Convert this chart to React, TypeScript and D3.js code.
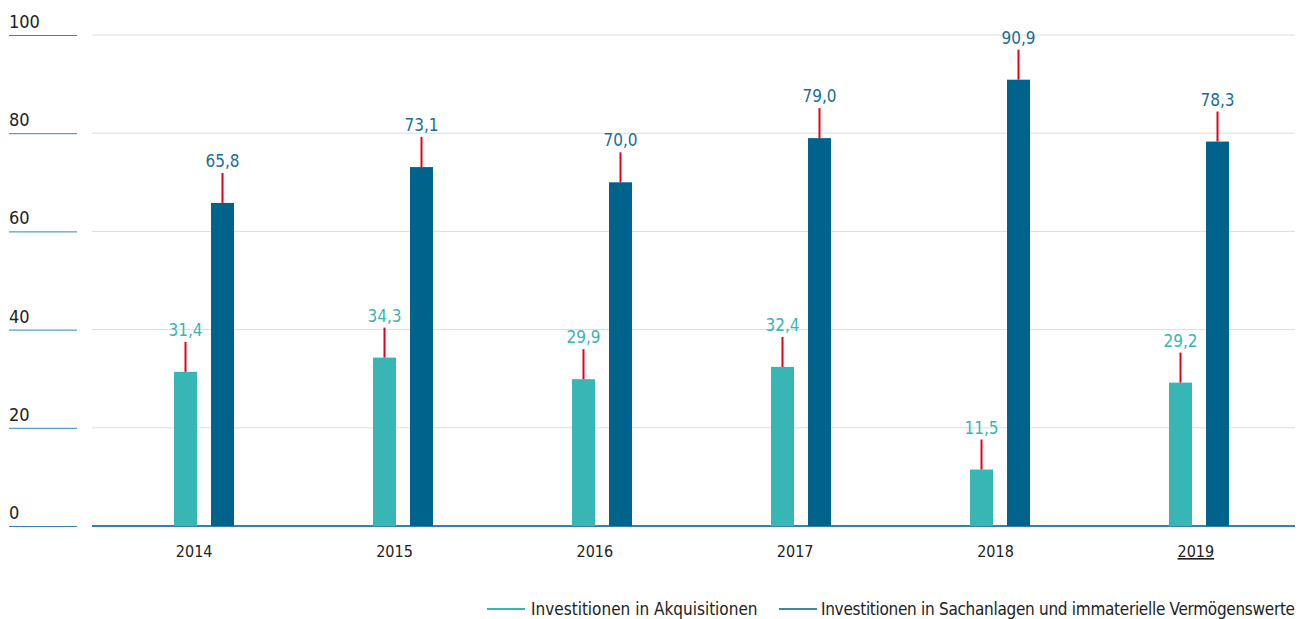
import React from "react";
import { scaleBand, scaleLinear, format } from "d3";

const years = ["2014", "2015", "2016", "2017", "2018", "2019"];
const acquisitions = [31.4, 34.3, 29.9, 32.4, 11.5, 29.2];
const tangibles = [65.8, 73.1, 70.0, 79.0, 90.9, 78.3];
const yTicks = [0, 20, 40, 60, 80, 100];
const seriesNames = [
  "Investitionen in Akquisitionen",
  "Investitionen in Sachanlagen und immaterielle Vermögenswerte",
];

const TEAL = "#37b6b5";
const BLUE = "#00638c";
const AXIS = "#2a88b0";
const FONT = "'Liberation Sans Narrow', 'DejaVu Sans Condensed', sans-serif";

export default function App() {
  const width = 1306;
  const height = 619;

  const x = scaleBand().domain(years).range([104.5, 1298.5]);
  // year labels sit on an even grid across the plot area
  const xLabel = scaleBand().domain(years).range([94, 1296]);
  const y = scaleLinear().domain([0, 100]).range([526, 35]);
  const fmt = (v: number) => format(".1f")(v).replace(".", ",");

  const barW = 23;
  const gap = 14;

  return (
    <svg
      width={width}
      height={height}
      style={{ position: "absolute", left: 0, top: 0, fontFamily: FONT }}
    >
      {yTicks.map((t) => (
        <g key={t}>
          <line x1={92} x2={1295} y1={y(t)} y2={y(t)} stroke="#dddddd" strokeWidth={1} />
          <line x1={9} x2={77} y1={y(t) + 0.5} y2={y(t) + 0.5} stroke={AXIS} strokeWidth={1} />
          <text x={9} y={y(t) - 7} fontSize={18} fill="#222">
            {t}
          </text>
        </g>
      ))}
      <line x1={92} x2={1295} y1={y(0)} y2={y(0)} stroke={AXIS} strokeWidth={2} />

      {years.map((yr, i) => {
        const c = (x(yr) as number) + x.bandwidth() / 2;
        const tx = c - gap / 2 - barW;
        const bx = c + gap / 2;
        const series = [
          { v: acquisitions[i], x0: tx, color: TEAL },
          { v: tangibles[i], x0: bx, color: BLUE },
        ];
        return (
          <g key={yr}>
            {series.map((s, j) => (
              <g key={j}>
                <rect x={s.x0} y={y(s.v)} width={barW} height={y(0) - y(s.v)} fill={s.color} />
                <line
                  x1={s.x0 + barW / 2}
                  x2={s.x0 + barW / 2}
                  y1={y(s.v)}
                  y2={y(s.v) - 30}
                  stroke="#e2001a"
                  strokeWidth={2}
                />
                <text
                  x={s.x0 + barW / 2}
                  y={y(s.v) - 36}
                  textAnchor="middle"
                  fontSize={17}
                  fill={s.color === TEAL ? TEAL : "#1a6d94"}
                >
                  {fmt(s.v)}
                </text>
              </g>
            ))}
            <text
              x={(xLabel(yr) as number) + xLabel.bandwidth() / 2}
              y={557}
              textAnchor="middle"
              fontSize={16}
              fill="#222"
              textDecoration={yr === "2019" ? "underline" : undefined}
            >
              {yr}
            </text>
          </g>
        );
      })}

      <g>
        <line x1={487} x2={525} y1={609} y2={609} stroke={TEAL} strokeWidth={2} />
        <text x={531} y={615} fontSize={17} fill="#222">
          {seriesNames[0]}
        </text>
        <line x1={779} x2={817} y1={609} y2={609} stroke="#3a8aa8" strokeWidth={2} />
        <text x={821} y={615} fontSize={17} fill="#222" textLength={474} lengthAdjust="spacing">
          {seriesNames[1]}
        </text>
      </g>
    </svg>
  );
}
